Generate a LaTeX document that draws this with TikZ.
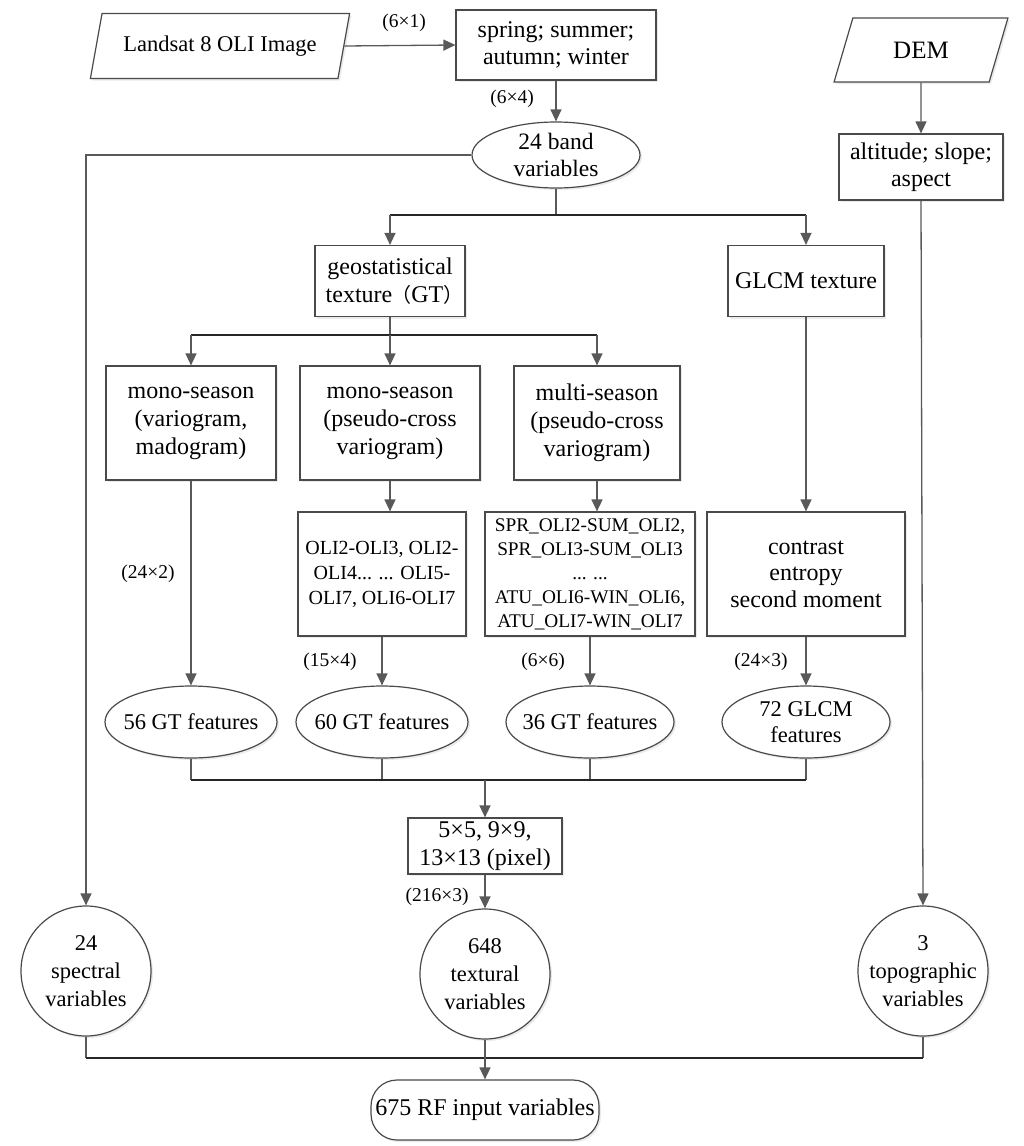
\documentclass[tikz,border=0pt]{standalone}
\usepackage{fontspec}
\setmainfont{Liberation Serif}
\newfontfamily\cjk{Noto Sans CJK SC}
\usetikzlibrary{arrows.meta,shapes.geometric,shadows}
\definecolor{lc}{HTML}{595959}
\definecolor{bc}{HTML}{4A4A4A}
\begin{document}
\begin{tikzpicture}[x=1pt,y=-1pt,
  sh/.style={drop shadow={shadow xshift=2pt,shadow yshift=-2pt,fill=black!8,opacity=1}},
  base/.style={draw=bc,line width=1.2pt,fill=white,inner sep=0pt,align=center,font=\fontsize{24}{27.5}\selectfont,sh},
  box/.style={base,rectangle},
  ell/.style={base,ellipse,inner sep=-30pt,font=\fontsize{22.5}{26.5}\selectfont},
  circ/.style={base,circle,inner sep=-40pt,font=\fontsize{22.5}{28}\selectfont},
  para/.style={base,trapezium,trapezium left angle=65,trapezium right angle=115,trapezium stretches=true,font=\fontsize{22.5}{26}\selectfont},
  arr/.style={draw=lc,line width=1.3pt,-{Triangle[length=12pt,width=11pt]}},
  ln/.style={draw=lc,line width=1.3pt},
  jn/.style={draw=black!85,line width=1.6pt},
  lab/.style={font=\fontsize{19.5}{22}\selectfont,inner sep=0pt}]
\useasboundingbox (0,0) rectangle (1024,1146);

% nodes
\node[para,minimum width=260,minimum height=65] (land) at (220,46) {Landsat 8 OLI Image};
\node[box,minimum width=200,minimum height=70] (spring) at (556,45) {spring; summer;\\autumn; winter};
\node[ell,minimum width=168,minimum height=66,font=\fontsize{23.5}{26.5}\selectfont] (band) at (556,155) {24 band\\variables};
\node[para,minimum width=174,minimum height=64,font=\fontsize{25}{28}\selectfont] (dem) at (921,50) {DEM};
\node[box,minimum width=164,minimum height=66] (alt) at (921,167) {altitude; slope;\\aspect};

\node[box,minimum width=150,minimum height=71] (geo) at (390,281) {geostatistical\\texture\kern-1pt{\cjk\fontsize{20}{24}\selectfont（}GT{\cjk\fontsize{20}{24}\selectfont）}\kern-9pt\null};
\node[box,minimum width=156,minimum height=71] (glcm) at (806,281) {GLCM texture};

\node[box,minimum width=170,minimum height=114,font=\fontsize{24}{28}\selectfont] (m1) at (191,423) {mono-season\\(variogram,\\madogram)};
\node[box,minimum width=180,minimum height=114,font=\fontsize{24}{28}\selectfont] (m2) at (390,423) {mono-season\\(pseudo-cross\\variogram)};
\node[box,minimum width=166,minimum height=114,font=\fontsize{24}{28}\selectfont] (m3) at (597,423) {multi-season\\(pseudo-cross\\variogram)};

\node[box,minimum width=168,minimum height=124,font=\fontsize{20}{25}\selectfont] (oli) at (382,574) {OLI2-OLI3, OLI2-\\OLI4... ... OLI5-\\OLI7, OLI6-OLI7};
\node[box,minimum width=210,minimum height=124,font=\fontsize{19.3}{24}\selectfont] (spr) at (590,574) {SPR\_OLI2-SUM\_OLI2,\\SPR\_OLI3-SUM\_OLI3\\... ...\\ATU\_OLI6-WIN\_OLI6,\\ATU\_OLI7-WIN\_OLI7};
\node[box,minimum width=198,minimum height=124,font=\fontsize{24}{26.5}\selectfont] (ctr) at (806,574) {contrast\\entropy\\second moment};

\node[ell,minimum width=172,minimum height=72] (g56) at (191,722) {56 GT features};
\node[ell,minimum width=172,minimum height=72] (g60) at (382,722) {60 GT features};
\node[ell,minimum width=168,minimum height=72] (g36) at (590,722) {36 GT features};
\node[ell,minimum width=168,minimum height=72] (g72) at (806,722) {72 GLCM\\features};

\node[box,minimum width=154,minimum height=56] (pix) at (485,846) {5×5, 9×9,\\13×13 (pixel)};

\node[circ,minimum size=130] (spec) at (86,971) {24\\spectral\\variables};
\node[circ,minimum size=130] (tex) at (485,974) {648\\textural\\variables};
\node[circ,minimum size=130] (topo) at (923,971) {3\\topographic\\variables};

\node[box,rounded corners=26pt,minimum width=228,minimum height=60] (rf) at (485,1110) {675 RF input variables};

% labels
\node[lab] (l1) at (404,23) {(6×1)};
\node[lab] (l2) at (512,99) {(6×4)};
\node[lab] (l3) at (148,574) {(24×2)};
\node[lab] (l4) at (330,662) {(15×4)};
\node[lab] (l5) at (543,662) {(6×6)};
\node[lab] (l6) at (761,662) {(24×3)};
\node[lab] (l7) at (437,897) {(216×3)};

% junction coordinates
\coordinate (j1) at (556,215);
\coordinate (j2) at (390,335);
\coordinate (j3) at (485,780);
\coordinate (j4) at (485,1058);

% connectors
\draw[arr] (land.east) -- (spring.west);
\draw[arr] (spring.south) -- (band.north);
\draw[arr] (dem.south) -- (alt.north);
\draw[arr] (alt.south) -- (topo.north);
\draw[arr] (band.west) -| (spec.north);

\draw[ln] (band.south) -- (j1);
\draw[jn] (geo.north |- j1) -- (glcm.north |- j1);
\draw[arr] (geo.north |- j1) -- (geo.north);
\draw[arr] (glcm.north |- j1) -- (glcm.north);

\draw[ln] (geo.south) -- (j2);
\draw[jn] (m1.north |- j2) -- (m3.north |- j2);
\draw[arr] (m1.north |- j2) -- (m1.north);
\draw[arr] (m2.north |- j2) -- (m2.north);
\draw[arr] (m3.north |- j2) -- (m3.north);

\draw[arr] (m1.south) -- (g56.north);
\draw[arr] (m2.south) -- (m2.south |- oli.north);
\draw[arr] (m3.south) -- (m3.south |- spr.north);
\draw[arr] (glcm.south) -- (ctr.north);
\draw[arr] (oli.south) -- (g60.north);
\draw[arr] (spr.south) -- (g36.north);
\draw[arr] (ctr.south) -- (g72.north);

\draw[ln] (g56.south) -- (g56.south |- j3);
\draw[ln] (g60.south) -- (g60.south |- j3);
\draw[ln] (g36.south) -- (g36.south |- j3);
\draw[ln] (g72.south) -- (g72.south |- j3);
\draw[jn] (g56.south |- j3) -- (g72.south |- j3);
\draw[arr] (j3) -- (pix.north);
\draw[arr] (pix.south) -- (tex.north);

\draw[ln] (spec.south) -- (spec.south |- j4);
\draw[ln] (topo.south) -- (topo.south |- j4);
\draw[jn] (spec.south |- j4) -- (topo.south |- j4);
\draw[arr] (tex.south) -- (rf.north);
\end{tikzpicture}
\end{document}
